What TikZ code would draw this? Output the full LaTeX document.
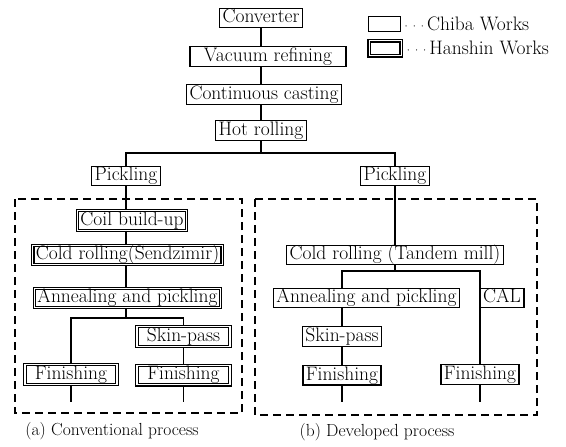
\documentclass[tikz,border=0pt]{standalone}
\usepackage{tikz}
\usetikzlibrary{positioning}
\newcommand\procfont{\fontsize{19.5}{22}\selectfont}
\newcommand\captfont{\fontsize{17.5}{20}\selectfont}
\newcommand\keydots{{\fontsize{12}{12}\selectfont\textperiodcentered\kern-1pt\textperiodcentered\kern-1pt\textperiodcentered}}

\begin{document}
\begin{tikzpicture}[x=1pt, y=-1pt,
  chiba/.style={draw, line width=1.3pt, inner xsep=3pt, inner ysep=1pt, text height=13.5pt, text depth=4pt, font=\procfont},
  hanshin/.style={chiba, line width=1.1pt, double, double distance=1.2pt},
  keybox/.style={draw, inner sep=0pt, minimum width=32pt, minimum height=15pt},
  link/.style={line width=1.6pt},
  area/.style={line width=1.4pt, dash pattern=on 8pt off 5pt}]
\useasboundingbox (0,0) rectangle (566,447);

% common route
\node[chiba] (conv) at (261,18) {Converter};
\node[chiba, minimum width=156pt] (vac) at (268,56.5) {Vacuum refining};
\node[chiba] (cast) at (264,94.5) {Continuous casting};
\node[chiba] (hot) at (261,130.5) {Hot rolling};
\node[chiba] (pickA) at (126,176) {Pickling};
\node[chiba] (pickB) at (395,176) {Pickling};

% legend
\node[keybox, line width=1pt] (keyC) at (384,23.5) {};
\node[keybox, line width=1.5pt, double, double distance=1pt] (keyH) at (385,48) {};
\node[anchor=west, inner sep=1pt, font=\procfont] (keyCt) at (keyC.east) {\keydots Chiba Works};
\node[anchor=west, inner sep=1pt, font=\procfont] (keyHt) at ([xshift=1pt]keyH.east) {\keydots Hanshin Works};

% (a) conventional
\node[hanshin] (coilA) at (132,220.5) {Coil build-up};
\node[hanshin] (coldA) at (127.5,255) {Cold rolling(Sendzimir)};
\node[hanshin] (annA) at (127.5,298) {Annealing and pickling};
\node[hanshin, minimum width=93pt] (skinA) at (183.5,336.5) {Skin-pass};
\node[hanshin, minimum width=92pt] (finA) at (71,374.5) {Finishing};
\node[hanshin, minimum width=93pt, below=18pt of skinA] (finB) {Finishing};

% (b) developed
\node[chiba] (coldB) at (395,255) {Cold rolling (Tandem mill)};
\node[chiba] (annB) at (366.5,298) {Annealing and pickling};
\node[chiba] (cal) at (502,298) {CAL};
\node[chiba] (skinB) at (342,336.5) {Skin-pass};
\node[chiba, below=18pt of skinB] (finC) {Finishing};
\node[chiba] (finD) at (480,374.5) {Finishing};

\node[font=\captfont] (captA) at (112,431) {(a) Conventional process};
\node[font=\captfont] (captB) at (377,432) {(b) Developed process};

% lines
\coordinate (axis) at (261,0);
\coordinate (colA) at (126,0);
\coordinate (colC) at (342,0);
\coordinate (colD) at (480,0);
\coordinate (brTop) at (261,153);
\coordinate (brA) at (126,318);
\coordinate (brB) at (395,271);
\coordinate (stub) at (0,402);

\draw[link] (axis |- conv.south) -- (axis |- vac.north);
\draw[link] (axis |- vac.south) -- (axis |- cast.north);
\draw[link] (axis |- cast.south) -- (axis |- hot.north);
\draw[link] (hot.south) -- (brTop);
\draw[link] (pickA.north) |- (brTop) -| (pickB.north);

\draw[link] (colA |- pickA.south) -- (colA |- coilA.north);
\draw[link] (colA |- coilA.south) -- (colA |- coldA.north);
\draw[link] (colA |- coldA.south) -- (colA |- annA.north);
\draw[link] (colA |- annA.south) -- (brA);
\draw[link] (finA.north) |- (skinA.north |- brA) -- (skinA.north);
\draw[link] (skinA) -- (finB);
\draw[link] (finA.south) -- (finA.south |- stub);
\draw[link] (finB.south) -- (finB.south |- stub);

\draw[link] (pickB) -- (coldB);
\draw[link] (coldB.south) -- (brB);
\draw[link] (colC |- annB.north) |- (brB) -| (colD |- cal.north);
\draw[link] (colC |- annB.south) -- (skinB.north);
\draw[link] (skinB) -- (finC);
\draw[link] (colD |- cal.south) -- (finD.north);
\draw[link] (finC.south) -- (finC.south |- stub);
\draw[link] (finD.south) -- (finD.south |- stub);

% process areas
\draw[area] (15,199) rectangle (242,413);
\draw[area] (255,199) rectangle (537,415);
\end{tikzpicture}
\end{document}
